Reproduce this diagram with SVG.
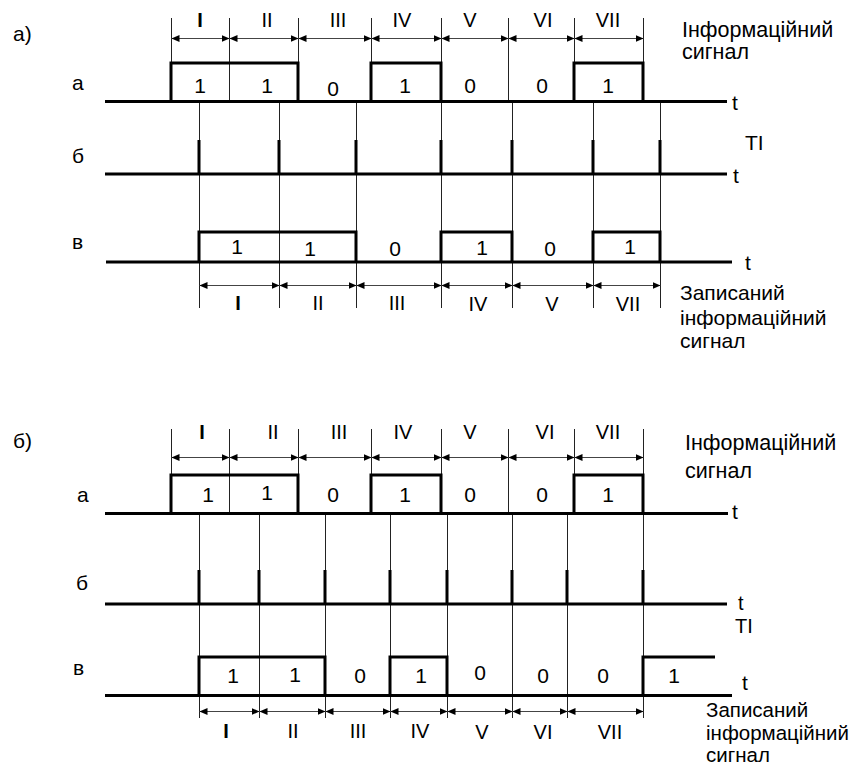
<svg xmlns="http://www.w3.org/2000/svg" width="853" height="773" viewBox="0 0 853 773">
<style>
.bg{fill:#fff}
.thick{stroke:#000;stroke-width:3;fill:none}
.thin{stroke:#222;stroke-width:1;fill:none}
.dim{stroke:#444;stroke-width:1;fill:none;marker-start:url(#ah);marker-end:url(#ah)}
text{font-family:"Liberation Sans",Arial,sans-serif;fill:#000;font-size:21px}
.c{text-anchor:middle}
.r{font-size:20px;text-anchor:middle}
.b{font-weight:bold}
.h{font-size:21.5px}
.w{font-size:21px}
.n{font-size:20.5px}
.s{font-size:20px}
</style>
<defs>
<marker id="ah" viewBox="0 0 8 8" refX="8" refY="4" markerWidth="8" markerHeight="8" markerUnits="userSpaceOnUse" orient="auto-start-reverse">
<path d="M0,0.5 L8,4 L0,7.5 z" fill="#000"/>
</marker>
</defs>
<rect class="bg" x="0" y="0" width="853" height="773"/>

<g id="connectors">
<path class="thin" d="M171.5,18V101 M229.5,18V101 M298.5,18V101 M371.5,18V101 M441.5,18V101 M508.5,18V101 M574.5,18V101 M643.5,18V101"/>
<path class="thin" d="M199.5,101V308 M279.5,101V308 M356.5,101V308 M441.5,101V308 M512.5,101V308 M593.5,101V308 M660.5,101V308"/>
<path class="dim" d="M171.5,38.5H229.5"/><path class="dim" d="M229.5,38.5H298.5"/><path class="dim" d="M298.5,38.5H371.5"/><path class="dim" d="M371.5,38.5H441.5"/><path class="dim" d="M441.5,38.5H508.5"/><path class="dim" d="M508.5,38.5H574.5"/><path class="dim" d="M574.5,38.5H643.5"/>
<path class="dim" d="M199.5,285.5H279.5"/><path class="dim" d="M279.5,285.5H356.5"/><path class="dim" d="M356.5,285.5H441.5"/><path class="dim" d="M441.5,285.5H512.5"/><path class="dim" d="M512.5,285.5H593.5"/><path class="dim" d="M593.5,285.5H660.5"/>
<path class="thin" d="M171.5,429V513 M229.5,429V513 M298.5,429V513 M371.5,429V513 M441.5,429V513 M508.5,429V513 M574.5,429V513 M643.5,429V513"/>
<path class="thin" d="M199.5,513V718 M259.5,513V718 M325.5,513V718 M390.5,513V718 M447.5,513V718 M512.5,513V718 M567.5,513V718 M643.5,513V718"/>
<path class="dim" d="M171.5,457.5H229.5"/><path class="dim" d="M229.5,457.5H298.5"/><path class="dim" d="M298.5,457.5H371.5"/><path class="dim" d="M371.5,457.5H441.5"/><path class="dim" d="M441.5,457.5H508.5"/><path class="dim" d="M508.5,457.5H574.5"/><path class="dim" d="M574.5,457.5H643.5"/>
<path class="dim" d="M199.5,711.5H259.5"/><path class="dim" d="M259.5,711.5H325.5"/><path class="dim" d="M325.5,711.5H390.5"/><path class="dim" d="M390.5,711.5H447.5"/><path class="dim" d="M447.5,711.5H512.5"/><path class="dim" d="M512.5,711.5H567.5"/><path class="dim" d="M567.5,711.5H643.5"/>
</g>

<g id="top-a">
<path class="thick" d="M105,101.5H727 M171,101.5V63H298V101.5 M371,101.5V63H441V101.5 M574,101.5V63H643V101.5"/>
<text x="13" y="41">а)</text>
<text x="72" y="90">а</text>
<text class="r b" x="200" y="27">I</text><text class="r" x="267" y="27">II</text><text class="r" x="338" y="27">III</text><text class="r" x="402" y="27">IV</text><text class="r" x="470" y="27">V</text><text class="r" x="543" y="27">VI</text><text class="r" x="608" y="27">VII</text>
<text class="c" x="200" y="93">1</text><text class="c" x="267" y="93">1</text><text class="c" x="333" y="96">0</text><text class="c" x="405" y="93">1</text><text class="c" x="470" y="93">0</text><text class="c" x="542" y="93">0</text><text class="c" x="608" y="93">1</text>
<text x="732" y="110">t</text>
<text class="h" x="682" y="37">Інформаційний</text>
<text class="h" x="682" y="59">сигнал</text>
</g>

<g id="top-b">
<path class="thick" d="M105,174H727 M199,174V140 M279,174V140 M356,174V140 M441,174V140 M512,174V140 M593,174V140 M660,174V140"/>
<text x="72" y="163">б</text>
<text x="745" y="150">TI</text>
<text x="733" y="183">t</text>
</g>

<g id="top-v">
<path class="thick" d="M106,262H732 M199,262V232H356V262 M441,262V232H512V262 M593,262V232H660V262"/>
<text x="72" y="249">в</text>
<text class="c" x="237" y="254">1</text><text class="c" x="310" y="256">1</text><text class="c" x="395" y="256">0</text><text class="c" x="482" y="255">1</text><text class="c" x="550" y="256">0</text><text class="c" x="630" y="254">1</text>
<text class="r b" x="238" y="310">I</text><text class="r" x="318" y="310">II</text><text class="r" x="397" y="310">III</text><text class="r" x="478" y="311">IV</text><text class="r" x="552" y="311">V</text><text class="r" x="628" y="311">VII</text>
<text x="745" y="270">t</text>
<text class="w" x="680" y="300">Записаний</text>
<text class="w" x="680" y="325">інформаційний</text>
<text class="w" x="680" y="348">сигнал</text>
</g>

<g id="bottom-a">
<path class="thick" d="M105,513.5H728 M171,513.5V475H298V513.5 M371,513.5V475H441V513.5 M574,513.5V475H643V513.5"/>
<text x="13" y="448">б)</text>
<text x="77" y="502">а</text>
<text class="r b" x="202" y="439">I</text><text class="r" x="273" y="439">II</text><text class="r" x="339" y="439">III</text><text class="r" x="403" y="439">IV</text><text class="r" x="470" y="439">V</text><text class="r" x="545" y="439">VI</text><text class="r" x="608" y="439">VII</text>
<text class="c" x="208" y="502">1</text><text class="c" x="267" y="500">1</text><text class="c" x="333" y="502">0</text><text class="c" x="405" y="502">1</text><text class="c" x="470" y="502">0</text><text class="c" x="542" y="502">0</text><text class="c" x="608" y="502">1</text>
<text x="732" y="519">t</text>
<text class="h" x="685" y="450">Інформаційний</text>
<text class="h" x="685" y="478">сигнал</text>
</g>

<g id="bottom-b">
<path class="thick" d="M105,604H727 M199,604V570 M259,604V570 M325,604V570 M390,604V570 M447,604V570 M512,604V570 M567,604V570 M643,604V570"/>
<text x="76" y="590">б</text>
<text class="s" x="738" y="610">t</text>
<text class="s" x="735" y="633">TI</text>
</g>

<g id="bottom-v">
<path class="thick" d="M105,695.5H732 M199,695.5V657H325V695.5 M390,695.5V657H447V695.5 M643,695.5V657H715"/>
<text x="73" y="675">в</text>
<text class="c" x="233" y="683">1</text><text class="c" x="295" y="682">1</text><text class="c" x="360" y="683">0</text><text class="c" x="421" y="683">1</text><text class="c" x="480" y="680">0</text><text class="c" x="543" y="683">0</text><text class="c" x="603" y="683">0</text><text class="c" x="674" y="683">1</text>
<text class="r b" x="226" y="738">I</text><text class="r" x="293" y="738">II</text><text class="r" x="358" y="738">III</text><text class="r" x="420" y="738">IV</text><text class="r" x="482" y="739">V</text><text class="r" x="543" y="739">VI</text><text class="r" x="610" y="739">VII</text>
<text x="742" y="690">t</text>
<text class="n" x="706" y="717">Записаний</text>
<text class="n" x="706" y="740">інформаційний</text>
<text class="n" x="706" y="762">сигнал</text>
</g>
</svg>
